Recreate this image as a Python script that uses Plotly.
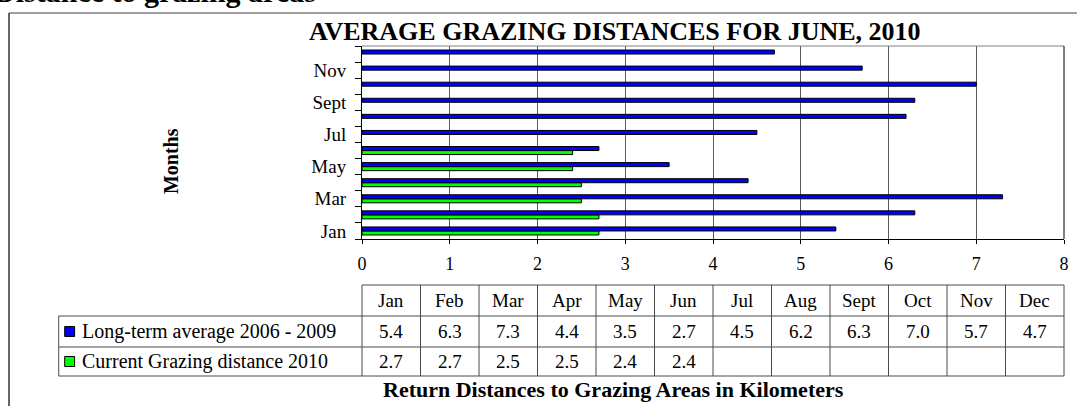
import plotly.graph_objects as go

# ---------------- data ----------------
months = ["Jan", "Feb", "Mar", "Apr", "May", "Jun", "Jul", "Aug", "Sept", "Oct", "Nov", "Dec"]
long_term = [5.4, 6.3, 7.3, 4.4, 3.5, 2.7, 4.5, 6.2, 6.3, 7.0, 5.7, 4.7]
current = [2.7, 2.7, 2.5, 2.5, 2.4, 2.4, None, None, None, None, None, None]
series_names = ["Long-term average 2006 - 2009", "Current Grazing distance 2010"]
series_colors = ["#0000FF", "#00FF00"]
x_ticks = [0, 1, 2, 3, 4, 5, 6, 7, 8]
title_text = "AVERAGE GRAZING DISTANCES FOR JUNE, 2010"
x_title = "Return Distances to Grazing Areas in Kilometers"
y_title = "Months"
page_heading = "Distance to grazing areas"

# ---------------- geometry ----------------
W, H = 1081, 406
L, R, T, B = 362, 1068, 46, 239
FONT = "Liberation Serif, Times New Roman, serif"


def px(x):
    return (x - L) / (R - L)


def py(y):
    return (B - y) / (B - T)


fig = go.Figure()

# green (current) first so that it sits below the blue bar in each group
fig.add_trace(go.Bar(
    y=months, x=current, orientation="h", name=series_names[1],
    marker=dict(color=series_colors[1], line=dict(color="black", width=1)),
    showlegend=False, hoverinfo="x+y"))
fig.add_trace(go.Bar(
    y=months, x=long_term, orientation="h", name=series_names[0],
    marker=dict(color=series_colors[0], line=dict(color="black", width=1)),
    showlegend=False, hoverinfo="x+y"))

fig.update_layout(
    width=W, height=H,
    margin=dict(l=L, r=W - R, t=T, b=H - B, pad=0),
    paper_bgcolor="white", plot_bgcolor="white",
    barmode="group", bargap=0.5, bargroupgap=0,
    font=dict(family=FONT, color="black", size=19),
)

fig.update_xaxes(
    range=[x_ticks[0], x_ticks[-1]], tickmode="array", tickvals=x_ticks,
    showgrid=True, gridcolor="#5a5a5a", gridwidth=1,
    showline=True, linecolor="black", linewidth=1, mirror=False,
    ticks="outside", ticklen=4, tickcolor="black",
    tickfont=dict(family=FONT, size=18), ticklabelstandoff=4,
    zeroline=False,
)
fig.update_yaxes(
    type="category", categoryorder="array", categoryarray=months,
    tickmode="array", tickvals=months,
    ticktext=[m if i % 2 == 0 else "" for i, m in enumerate(months)],
    tickson="boundaries",
    showgrid=False, showline=True, linecolor="black", linewidth=1,
    ticks="outside", ticklen=6, tickcolor="black",
    tickfont=dict(family=FONT, size=19), ticklabelstandoff=11,
    zeroline=False,
)

shapes = []
# outer frame (top and left visible)
shapes.append(dict(type="line", xref="paper", yref="paper", x0=px(7), x1=px(1081), y0=py(13), y1=py(13),
                   line=dict(color="#808080", width=1.5)))
shapes.append(dict(type="line", xref="paper", yref="paper", x0=px(7), x1=px(7), y0=py(13), y1=py(406),
                   line=dict(color="#333333", width=1.5)))
# plot box: top gray, right black
shapes.append(dict(type="line", xref="paper", yref="paper", x0=0, x1=1, y0=1, y1=1,
                   line=dict(color="#808080", width=1)))
shapes.append(dict(type="line", xref="paper", yref="paper", x0=1, x1=1, y0=0, y1=1,
                   line=dict(color="black", width=1)))

# data table
n = len(months)
row_tops = [285, 316, 347, 376]
legend_left = 57
gridc = "#4a4a4a"
shapes.append(dict(type="line", xref="paper", yref="paper", x0=0, x1=1,
                   y0=py(row_tops[0]), y1=py(row_tops[0]), line=dict(color=gridc, width=1)))
for yy in row_tops[1:]:
    shapes.append(dict(type="line", xref="paper", yref="paper", x0=px(legend_left), x1=1,
                       y0=py(yy), y1=py(yy), line=dict(color=gridc, width=1)))
for k in range(n + 1):
    shapes.append(dict(type="line", xref="paper", yref="paper", x0=k / n, x1=k / n,
                       y0=py(row_tops[0]), y1=py(row_tops[-1]), line=dict(color=gridc, width=1)))
shapes.append(dict(type="line", xref="paper", yref="paper", x0=px(legend_left), x1=px(legend_left),
                   y0=py(row_tops[1]), y1=py(row_tops[-1]), line=dict(color=gridc, width=1)))

annotations = []
for k, m in enumerate(months):
    annotations.append(dict(text=m, xref="paper", yref="paper", x=(k + 0.5) / n,
                            y=py((row_tops[0] + row_tops[1]) / 2), showarrow=False,
                            xanchor="center", yanchor="middle", font=dict(family=FONT, size=19)))
for r, vals in enumerate([long_term, current]):
    yc = py((row_tops[r + 1] + row_tops[r + 2]) / 2)
    for k, v in enumerate(vals):
        if v is None:
            continue
        annotations.append(dict(text=f"{v:.1f}", xref="paper", yref="paper", x=(k + 0.5) / n,
                                y=yc, showarrow=False, xanchor="center", yanchor="middle",
                                font=dict(family=FONT, size=19)))
    shapes.append(dict(type="rect", xref="paper", yref="paper", x0=px(63), x1=px(73),
                       y0=yc - 5 / (B - T), y1=yc + 5 / (B - T),
                       fillcolor=series_colors[r], line=dict(color="black", width=1)))
    annotations.append(dict(text=series_names[r], xref="paper", yref="paper", x=px(78), y=yc,
                            showarrow=False, xanchor="left", yanchor="middle",
                            font=dict(family=FONT, size=20)))

# titles
annotations.append(dict(text=f"<b>{title_text}</b>", xref="paper", yref="paper", x=px(616), y=py(32),
                        showarrow=False, xanchor="center", yanchor="middle",
                        font=dict(family=FONT, size=26)))
annotations.append(dict(text=f"<b>{x_title}</b>", xref="paper", yref="paper", x=px(615), y=py(389),
                        showarrow=False, xanchor="center", yanchor="middle",
                        font=dict(family=FONT, size=22)))
annotations.append(dict(text=f"<b>{y_title}</b>", xref="paper", yref="paper", x=px(170), y=py(161),
                        showarrow=False, xanchor="center", yanchor="middle", textangle=-90,
                        font=dict(family=FONT, size=20)))
# partially visible page heading above the chart frame (cut by the page edge, as in the reference)
annotations.append(dict(text=f"<b>{page_heading}</b>", xref="paper", yref="paper", x=px(-10), y=py(-9),
                        showarrow=False, xanchor="left", yanchor="middle",
                        font=dict(family=FONT, size=30)))

fig.update_layout(shapes=shapes, annotations=annotations)

fig.write_html("out.html", config={"displayModeBar": False},
               post_script="document.body.style.margin='0';")
